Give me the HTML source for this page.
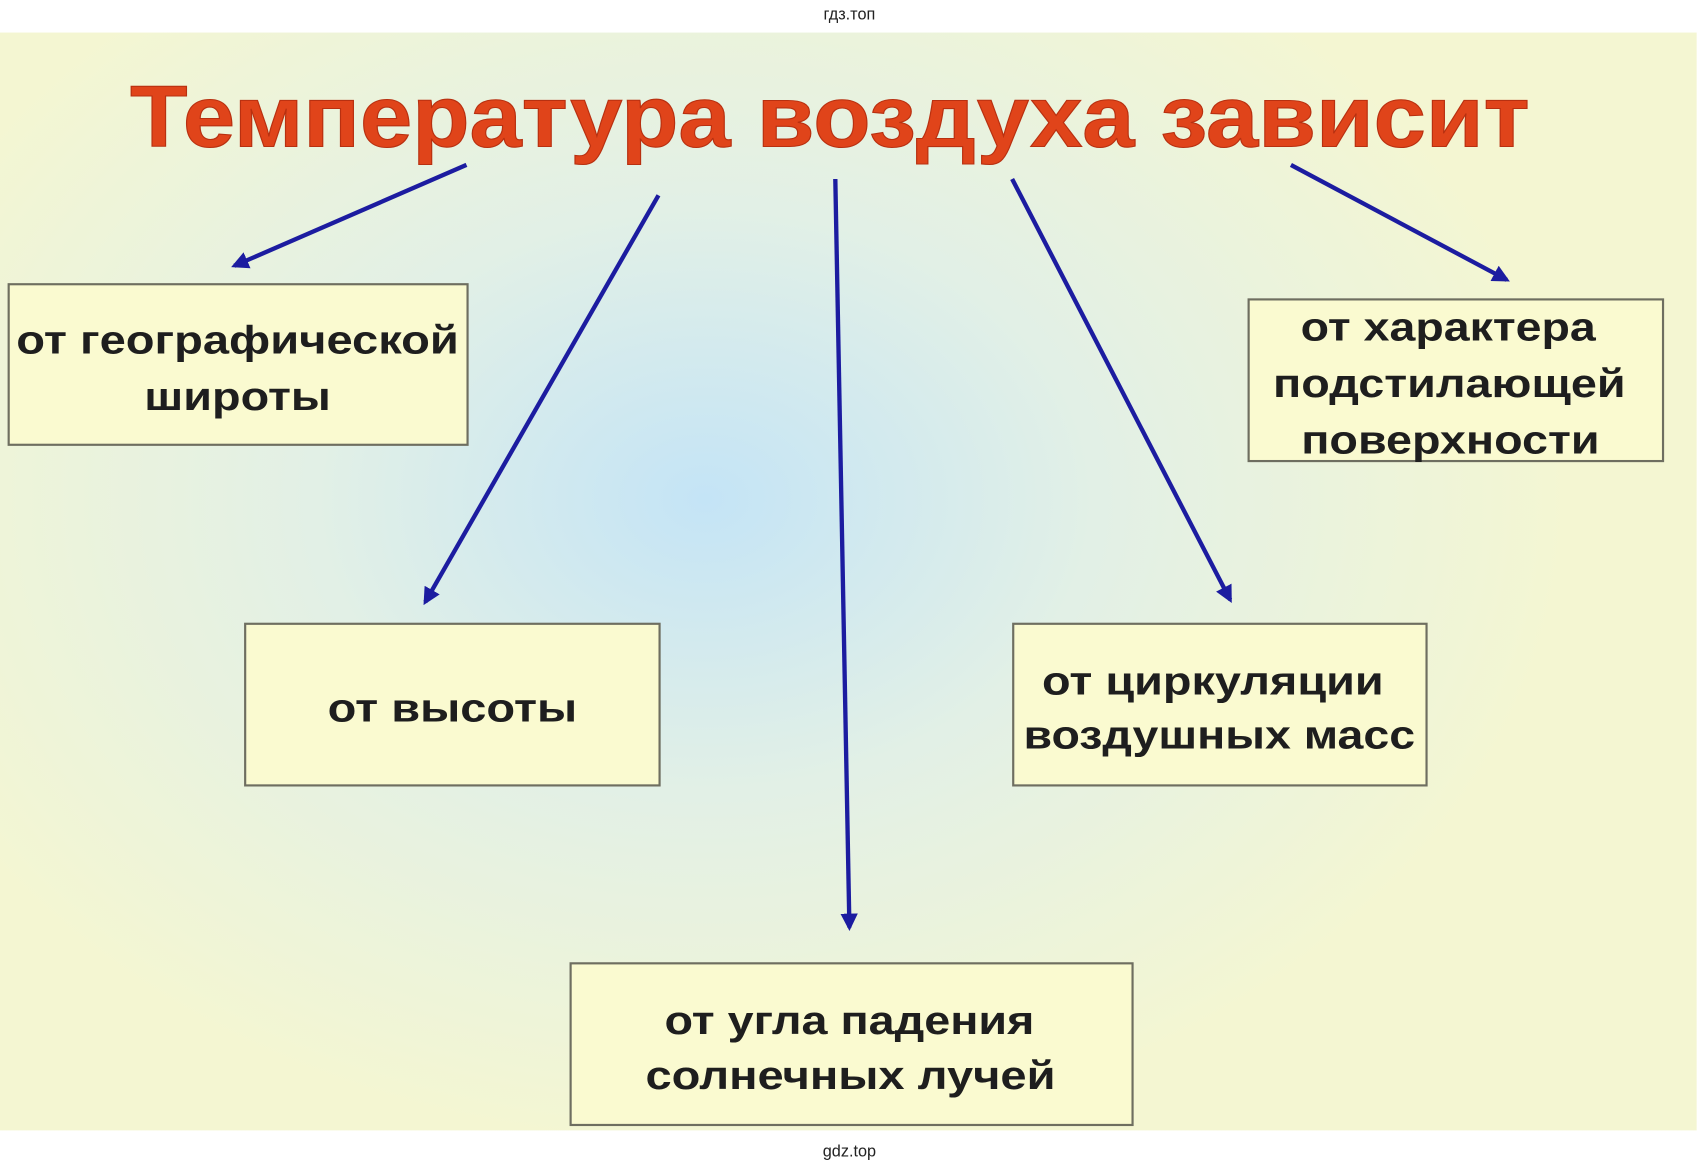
<!DOCTYPE html>
<html><head><meta charset="utf-8"><style>html,body{margin:0;padding:0;background:#fff}svg{display:block}</style></head>
<body>
<svg width="1701" height="1170" viewBox="0 0 1568 1078.5" xmlns="http://www.w3.org/2000/svg" font-family="Liberation Sans, Arial, sans-serif">
<defs>
<radialGradient id="bg" cx="650" cy="460" r="800" gradientUnits="userSpaceOnUse" gradientTransform="translate(650 460) scale(1 0.75) translate(-650 -460)">
<stop offset="0" stop-color="#c4e4f6"/>
<stop offset="0.45" stop-color="#e2f0e6"/>
<stop offset="1" stop-color="#f4f6d2"/>
</radialGradient>
<marker id="ah" viewBox="0 0 10 10" refX="8" refY="5" markerWidth="4" markerHeight="4" orient="auto"><path d="M0,0 L10,5 L0,10 z" fill="#1c1ca0"/></marker>
</defs>
<rect x="0" y="0" width="1568" height="1078.5" fill="#fff"/>
<text x="783" y="18" font-size="15" text-anchor="middle" fill="#222">гдз.топ</text>
<rect x="0" y="30" width="1564" height="1012" fill="url(#bg)"/>
<text x="765" y="135" font-size="80" font-weight="bold" text-anchor="middle" fill="#e0441a" stroke="#b83010" stroke-width="1" textLength="1290" lengthAdjust="spacingAndGlyphs">Температура воздуха зависит</text>
<g stroke="#1c1ca0" stroke-width="4" fill="none" marker-end="url(#ah)">
<line x1="430" y1="152" x2="216" y2="245"/>
<line x1="607" y1="180" x2="392" y2="555"/>
<line x1="770" y1="165" x2="783" y2="855"/>
<line x1="933" y1="165" x2="1134" y2="553"/>
<line x1="1190" y1="152" x2="1389" y2="258"/>
</g>
<g fill="#fafad0" stroke="#6e6e60" stroke-width="2">
<rect x="8" y="262" width="423" height="148"/>
<rect x="226" y="575" width="382" height="149"/>
<rect x="526" y="888" width="518" height="149"/>
<rect x="934" y="575" width="381" height="149"/>
<rect x="1151" y="276" width="382" height="149"/>
</g>
<g font-size="37" font-weight="bold" fill="#1e1e1e" text-anchor="middle" lengthAdjust="spacingAndGlyphs">
<text x="219" y="326" textLength="408" lengthAdjust="spacingAndGlyphs">от географической</text>
<text x="219" y="378" textLength="172" lengthAdjust="spacingAndGlyphs">широты</text>
<text x="417" y="665" textLength="230" lengthAdjust="spacingAndGlyphs">от высоты</text>
<text x="783" y="953" textLength="341" lengthAdjust="spacingAndGlyphs">от угла падения</text>
<text x="784" y="1004" textLength="378" lengthAdjust="spacingAndGlyphs">солнечных лучей</text>
<text x="1118" y="640" textLength="315" lengthAdjust="spacingAndGlyphs">от циркуляции</text>
<text x="1124" y="690" textLength="361" lengthAdjust="spacingAndGlyphs">воздушных масс</text>
<text x="1335" y="314" textLength="272" lengthAdjust="spacingAndGlyphs">от характера</text>
<text x="1336" y="366" textLength="325" lengthAdjust="spacingAndGlyphs">подстилающей</text>
<text x="1337" y="418" textLength="275" lengthAdjust="spacingAndGlyphs">поверхности</text>
</g>
<text x="783" y="1066" font-size="15" text-anchor="middle" fill="#222">gdz.top</text>
</svg>
</body></html>
